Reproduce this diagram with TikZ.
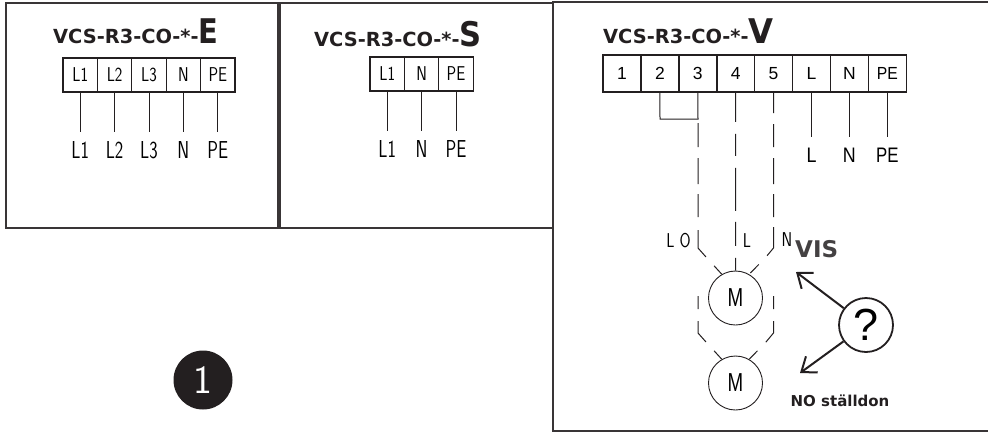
\documentclass[tikz,border=0pt]{standalone}
\usepackage{fontspec}
\usepackage{graphicx}
\setmainfont{Liberation Sans}
\newfontfamily\headfont{DejaVu Sans}
\usetikzlibrary{arrows.meta}
\newcommand{\fsize}[1]{\fontsize{#1}{#1}\selectfont}
\newcommand{\slim}[2]{\scalebox{#1}[1]{#2}}
\definecolor{ink}{HTML}{231F20}
\tikzstyle{panel} = [draw=ink!90, line width=1.8pt]
\tikzstyle{title} = [anchor=base west, inner sep=0pt, text=ink, font=\headfont\bfseries\fsize{19.4}]
\tikzstyle{cadblock} = [rectangle, draw=ink, line width=1.2pt, inner sep=0pt,
    minimum width=34.4pt, minimum height=34pt, font=\sffamily\fsize{20}, node distance=34.4pt]
\tikzstyle{cadlabel} = [inner sep=0pt, minimum height=36pt, font=\sffamily\fsize{24.5}, node distance=75pt]
\tikzstyle{vblock} = [rectangle, draw=ink, line width=1.5pt, inner sep=0pt,
    minimum width=37.9pt, minimum height=37pt, font=\fsize{17.5}, node distance=37.9pt]
\tikzstyle{vlabel} = [inner sep=0pt, minimum height=36pt, font=\fsize{21}, node distance=81.5pt]
\tikzstyle{motor} = [circle, draw=ink, line width=0.9pt, inner sep=0pt, minimum size=54pt, font=\fsize{26}]
\tikzstyle{line} = [draw=ink, line width=1pt]
\tikzstyle{pointer} = [draw=ink, line width=2pt, -{Straight Barb[length=13pt,width=20pt]}]

\begin{document}
\begin{tikzpicture}[x=1pt, y=-1pt]
    \useasboundingbox (0,0) rectangle (988,432);

    % Panels
    \draw [panel] (6,3) rectangle (278,228);
    \draw [panel] (280,3) rectangle (553,228);
    \draw [panel] (988,2) -- (553,2) -- (553,431) -- (988,431);

    % Place nodes
    \node [title] (titleE) at (53,43) {VCS-R3-CO-*-{\fsize{34}\slim{.85}{E}}};
    \node [cadblock] (e1) at (80.2,75) {\slim{.8}{L1}};
    \node [cadblock, right of=e1] (e2) {\slim{.8}{L2}};
    \node [cadblock, right of=e2] (e3) {\slim{.8}{L3}};
    \node [cadblock, right of=e3] (e4) {\slim{.8}{N}};
    \node [cadblock, right of=e4] (e5) {\slim{.8}{PE}};
    \node [cadlabel, below of=e1] (le1) {\slim{.73}{L1}};
    \node [cadlabel, below of=e2] (le2) {\slim{.73}{L2}};
    \node [cadlabel, below of=e3] (le3) {\slim{.73}{L3}};
    \node [cadlabel, below of=e4] (le4) {\slim{.73}{N}};
    \node [cadlabel, below of=e5] (le5) {\slim{.73}{PE}};

    \node [title] (titleS) at (314,46) {VCS-R3-CO-*-{\fsize{34}\slim{.9}{S}}};
    \node [cadblock] (s1) at (387.2,74) {\slim{.8}{L1}};
    \node [cadblock, right of=s1] (s2) {\slim{.8}{N}};
    \node [cadblock, right of=s2] (s3) {\slim{.8}{PE}};
    \node [cadlabel, below of=s1] (ls1) {\slim{.73}{L1}};
    \node [cadlabel, below of=s2] (ls2) {\slim{.73}{N}};
    \node [cadlabel, below of=s3] (ls3) {\slim{.73}{PE}};

    \node [title] (titleV) at (603,43) {VCS-R3-CO-*-{\fsize{34}\slim{.95}{V}}};
    \node [vblock] (v1) at (622,73.5) {1};
    \node [vblock, right of=v1] (v2) {2};
    \node [vblock, right of=v2] (v3) {3};
    \node [vblock, right of=v3] (v4) {4};
    \node [vblock, right of=v4] (v5) {5};
    \node [vblock, right of=v5] (v6) {L};
    \node [vblock, right of=v6] (v7) {N};
    \node [vblock, right of=v7] (v8) {\slim{.9}{PE}};
    \node [vlabel, below of=v6] (lv6) {\slim{.85}{L}};
    \node [vlabel, below of=v7] (lv7) {\slim{.85}{N}};
    \node [vlabel, below of=v8] (lv8) {\slim{.8}{PE}};

    \node [motor] (m1) at (735.5,298) {\slim{.72}{M}};
    \node [motor] (m2) at (735.5,383) {\slim{.72}{M}};
    \node [inner sep=0pt, font=\sffamily\fsize{20}] (lo) at (678.5,241) {\slim{.8}{L O}};
    \node [inner sep=0pt, font=\sffamily\fsize{20}] (ll) at (747,241) {\slim{.8}{L}};
    \node [inner sep=0pt, font=\sffamily\fsize{20}] (ln) at (787,240) {\slim{.8}{N}};

    \node [anchor=base west, inner sep=0pt, text=ink!85, font=\headfont\bfseries\fsize{23}] (vis) at (795,257) {VIS};
    \node [inner sep=0pt, text=ink, font=\headfont\bfseries\fsize{15}] (nost) at (840,401) {NO ställdon};
    \node [circle, draw=ink, line width=1.8pt, inner sep=0pt, minimum size=54pt, font=\fsize{45}] (quest) at (866,325) {?};
    \node [circle, fill=ink, inner sep=0pt, minimum size=59pt, text=white, font=\sffamily\fsize{40}] (one) at (203,380) {1};

    \coordinate (bridge) at (660,119);
    \coordinate (bridge3) at (698,119);
    \coordinate (bus3) at (698,123);
    \coordinate (bus3b) at (698,248);
    \coordinate (bus3c) at (706,257);
    \coordinate (bus5) at (773.5,92);
    \coordinate (bus5b) at (773.5,248);
    \coordinate (bus5c) at (766,257);
    \coordinate (busL) at (698,296);
    \coordinate (busLb) at (698,333);
    \coordinate (busLc) at (706,342);
    \coordinate (busR) at (773.5,296);
    \coordinate (busRb) at (773.5,333);
    \coordinate (busRc) at (766,342);
    \coordinate (vistip) at (796,272);
    \coordinate (notip) at (800,373);

    % Draw edges
    \path [line] (e1) -- (le1);
    \path [line] (e2) -- (le2);
    \path [line] (e3) -- (le3);
    \path [line] (e4) -- (le4);
    \path [line] (e5) -- (le5);
    \path [line] (s1) -- (ls1);
    \path [line] (s2) -- (ls2);
    \path [line] (s3) -- (ls3);
    \path [line] (v6) -- (lv6);
    \path [line] (v7) -- (lv7);
    \path [line] (v8) -- (lv8);
    \path [line] (v2.south) -- (bridge) -- (bridge3) -- (v3.south);

    \path [line, dash pattern=on 24pt off 11pt on 26pt off 10pt on 23pt off 13pt on 30pt off 12pt on 12pt off 100pt]
        (bus3) -- (bus3b) -- (bus3c) -- (m1.120);
    \path [line, dash pattern=on 29pt off 12pt on 22pt off 12pt on 43pt off 11pt on 24pt off 12pt on 15pt off 100pt]
        (v4.south) -- (m1.north);
    \path [line, dash pattern=on 21pt off 11pt on 23pt off 11pt on 26pt off 10pt on 23pt off 10pt on 31pt off 12pt on 12pt off 100pt]
        (bus5) -- (bus5b) -- (bus5c) -- (m1.60);
    \path [line, dash pattern=on 13pt off 12pt on 24pt off 12pt on 12pt off 100pt]
        (busL) -- (busLb) -- (busLc) -- (m2.120);
    \path [line, dash pattern=on 13pt off 12pt on 24pt off 12pt on 12pt off 100pt]
        (busR) -- (busRb) -- (busRc) -- (m2.60);

    \path [pointer] (quest) -- (vistip);
    \path [pointer] (quest) -- (notip);
\end{tikzpicture}
\end{document}
